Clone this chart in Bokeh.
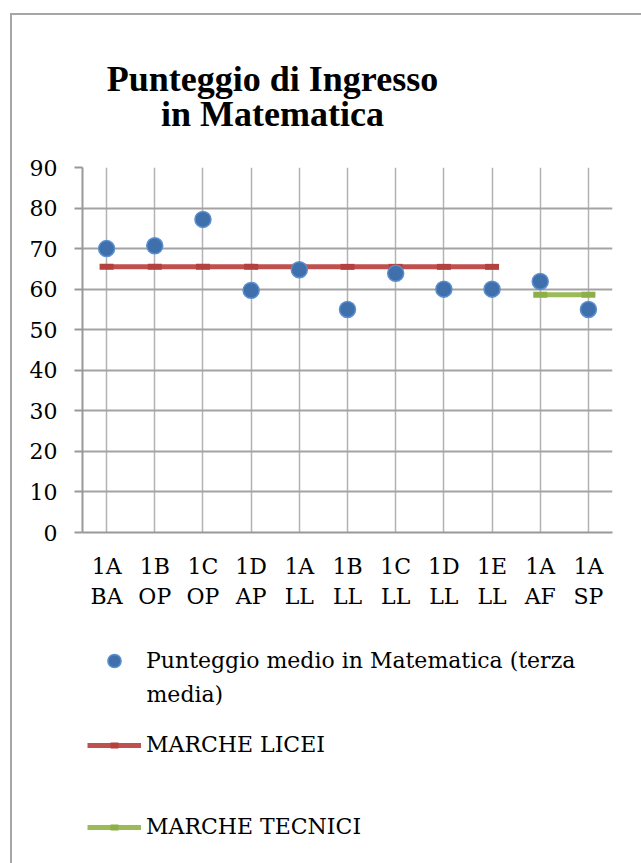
from bokeh.plotting import figure
from bokeh.layouts import column
from bokeh.models import (FactorRange, Range1d, Label, Legend, LegendItem,
                          SingleIntervalTicker)
from bokeh.embed import file_html
from bokeh.resources import INLINE

# ---- data ----
classes = ["1A\nBA", "1B\nOP", "1C\nOP", "1D\nAP", "1A\nLL", "1B\nLL",
           "1C\nLL", "1D\nLL", "1E\nLL", "1A\nAF", "1A\nSP"]
scores = [70.0, 70.7, 77.2, 59.7, 64.8, 55.0, 63.9, 60.0, 60.0, 61.9, 55.0]
licei_classes = ["1A\nBA", "1B\nOP", "1C\nOP", "1D\nAP", "1A\nLL", "1B\nLL",
                 "1C\nLL", "1D\nLL", "1E\nLL"]
licei_values = [65.5, 65.5, 65.5, 65.5, 65.5, 65.5, 65.5, 65.5, 65.5]
tecnici_classes = ["1A\nAF", "1A\nSP"]
tecnici_values = [58.6, 58.6]
y_ticks_interval = 10
title_lines = ["Punteggio di Ingresso", "in Matematica"]
legend_labels = ["Punteggio medio in Matematica (terza", "media)",
                 "MARCHE LICEI", "MARCHE TECNICI"]

SERIF = "DejaVu Serif"
TITLE_FONT = "Liberation Serif"
BLUE_FILL = "#3f70ac"
BLUE_LINE = "#5b8fd0"
RED = "#c0504d"
RED_DARK = "#b4413e"
GREEN = "#9bbb59"
GREEN_DARK = "#8caf48"
W = 641
H_TITLE, H_CHART, H_LEG = 140, 480, 243
FRAME_LEFT = 82


def blank_fig(h, **kw):
    f = figure(width=W, height=h, output_backend="svg",
               x_axis_type=None, y_axis_type=None,
               toolbar_location=None, title_location=None, min_border=0, **kw)
    f.grid.visible = False
    f.outline_line_color = None
    f.background_fill_color = None
    f.border_fill_color = None
    return f


# ---- title ----
tf = blank_fig(H_TITLE, x_range=Range1d(0, 1), y_range=Range1d(0, 1))
for txt, base in ((title_lines[0], 92), (title_lines[1], 127)):
    tf.add_layout(Label(x=272 - FRAME_LEFT, y=H_TITLE - base + 14,
                        x_units="screen", y_units="screen",
                        text=txt, text_align="center", text_baseline="alphabetic",
                        text_font=TITLE_FONT, text_font_style="bold",
                        text_font_size="36px", text_color="black"))

# ---- chart ----
p = figure(width=W, height=H_CHART,
           x_range=FactorRange(*classes), y_range=Range1d(0, 90),
           output_backend="svg", toolbar_location=None, title_location=None,
           min_border_left=FRAME_LEFT, min_border_right=29,
           min_border_top=167 - H_TITLE, min_border_bottom=H_TITLE + H_CHART - 532)
p.outline_line_color = None
p.background_fill_color = "white"
p.border_fill_color = None

p.xaxis.axis_line_color = "#999999"
p.xaxis.axis_line_width = 2
p.xaxis.major_tick_line_color = None
p.xaxis.minor_tick_line_color = None
p.xaxis.major_label_text_font = SERIF
p.xaxis.major_label_text_font_size = "22px"
p.xaxis.major_label_text_color = "black"
p.xaxis.major_label_standoff = 15

p.yaxis.ticker = SingleIntervalTicker(interval=y_ticks_interval)
p.yaxis.axis_line_color = "#999999"
p.yaxis.axis_line_width = 2
p.yaxis.major_tick_out = 8
p.yaxis.major_tick_in = 0
p.yaxis.major_tick_line_color = "#999999"
p.yaxis.major_tick_line_width = 2
p.yaxis.minor_tick_line_color = None
p.yaxis.major_label_text_font = SERIF
p.yaxis.major_label_text_font_size = "22px"
p.yaxis.major_label_text_color = "black"
p.yaxis.major_label_standoff = 17

p.ygrid.grid_line_color = "#a3a3a3"
p.ygrid.grid_line_width = 2
p.xgrid.grid_line_color = "#b3b3b3"
p.xgrid.grid_line_width = 1.5


def draw_series(f, visible=True):
    red = [f.line(licei_classes, licei_values, line_color=RED, line_width=5,
                  visible=visible),
           f.scatter(licei_classes, licei_values, marker="dash", size=14,
                     line_color=RED_DARK, line_width=6, visible=visible)]
    green = [f.line(tecnici_classes, tecnici_values, line_color=GREEN,
                    line_width=5, visible=visible),
             f.scatter(tecnici_classes, tecnici_values, marker="dash", size=14,
                       line_color=GREEN_DARK, line_width=6, visible=visible)]
    pts = [f.scatter(classes, scores, size=16, fill_color=BLUE_FILL,
                     line_color=BLUE_LINE, line_width=1.5, visible=visible)]
    return pts, red, green


draw_series(p)

# ---- legend (separate panel below the chart; same series as proxies) ----
lf = blank_fig(H_LEG, x_range=FactorRange(*classes), y_range=Range1d(0, 90))
lg_pts, lg_red, lg_green = draw_series(lf, visible=False)

LEG_TOP = H_TITLE + H_CHART


def add_legend(label, renderers, center, gh):
    h = max(gh, 26)
    bottom = center + h / 2
    lf.add_layout(Legend(items=[LegendItem(label=label, renderers=renderers)],
                         location=(5, H_LEG - (bottom - LEG_TOP)),
                         orientation="vertical", glyph_width=54, glyph_height=gh,
                         label_standoff=5, label_height=20, padding=0, margin=0,
                         spacing=0, border_line_color=None,
                         background_fill_alpha=0, inactive_fill_alpha=0,
                         label_text_font=SERIF,
                         label_text_font_size="22px", label_text_color="black"))


add_legend(legend_labels[0], lg_pts, 660, 33)
add_legend(legend_labels[2], lg_red, 744, 20)
add_legend(legend_labels[3], lg_green, 826, 20)
lf.add_layout(Label(x=146 - FRAME_LEFT, y=H_LEG - (700 - LEG_TOP) + 6,
                    x_units="screen", y_units="screen", text=legend_labels[1],
                    text_align="left", text_baseline="alphabetic",
                    text_font=SERIF, text_font_size="22px", text_color="black"))

layout = column(tf, p, lf, spacing=0,
                styles={"box-shadow": "inset 10px 13px 0 0 white, inset 12px 15px 0 0 #a6a6a6",
                        "background-color": "white"})

open("out.html", "w").write(file_html(layout, INLINE))
